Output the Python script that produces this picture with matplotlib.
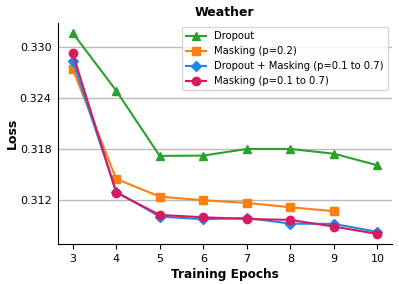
import matplotlib.pyplot as plt

epochs = [3, 4, 5, 6, 7, 8, 9, 10]
dropout = [0.33165, 0.32486, 0.31718, 0.31722, 0.3180, 0.3180, 0.31744, 0.31608]
masking_02 = [0.32741, 0.31447, 0.31239, 0.31196, 0.31165, 0.31114, 0.31067]
drop_mask = [0.32839, 0.31298, 0.31004, 0.30973, 0.30988, 0.30921, 0.30918, 0.30824]
mask_range = [0.32926, 0.31286, 0.31024, 0.30996, 0.30976, 0.30965, 0.30886, 0.30800]
yticks = [0.312, 0.318, 0.324, 0.330]

fig = plt.figure(figsize=(3.99, 2.84), dpi=100)
ax = fig.add_axes([0.145, 0.141, 0.837, 0.778])

ax.plot(epochs, dropout, marker='^', color='#2ca02c', markersize=6, lw=1.5, label="Dropout")
ax.plot(epochs[:len(masking_02)], masking_02, marker='s', color='#ff7f0e', markersize=6, lw=1.5, label="Masking (p=0.2)")
ax.plot(epochs, drop_mask, marker='D', color='#1e88e5', markersize=5.5, lw=1.5, label="Dropout + Masking (p=0.1 to 0.7)")
ax.plot(epochs, mask_range, marker='o', color='#d81b60', markersize=6, lw=1.5, label="Masking (p=0.1 to 0.7)")

ax.set_xticks(epochs)
ax.set_yticks(yticks)
ax.set_yticklabels([f"{v:.3f}" for v in yticks])
ax.set_ylim(0.30682, 0.33282)
ax.set_xlim(2.66, 10.33)
ax.tick_params(labelsize=8)
ax.tick_params(axis='y', length=0, pad=4.5)
ax.grid(axis='y', color='#bbbbbb', lw=1)
ax.set_axisbelow(True)
for s in ['top', 'right']:
    ax.spines[s].set_visible(False)

ax.set_title("Weather", fontsize=9, fontweight='bold', pad=5)
ax.set_xlabel("Training Epochs", fontsize=8.7, fontweight='bold', labelpad=3)
ax.set_ylabel("Loss", fontsize=9, fontweight='bold')
ax.yaxis.set_label_coords(-0.118, 0.5)
ax.legend(loc='upper right', fontsize=7.2, borderaxespad=0.4)

fig.savefig("out.png", dpi=100)
